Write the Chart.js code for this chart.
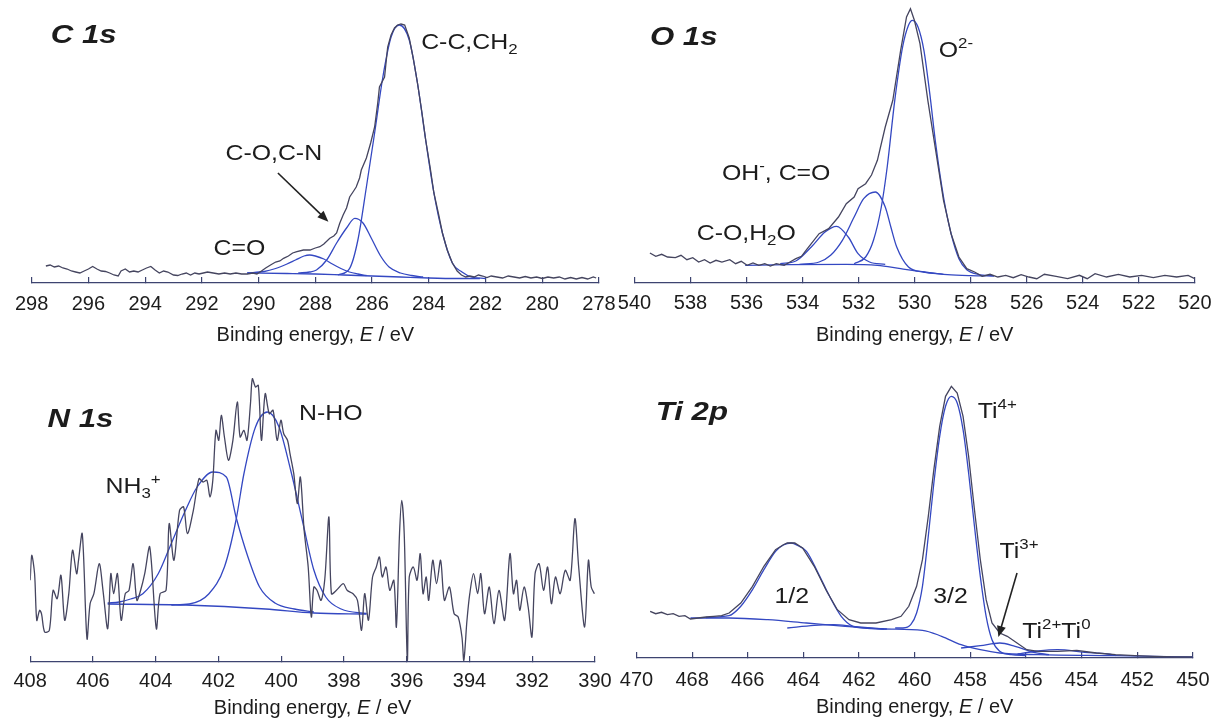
<!DOCTYPE html>
<html><head><meta charset="utf-8">
<script src="https://cdn.jsdelivr.net/npm/chart.js@4.4.1/dist/chart.umd.min.js"></script>
<style>
html,body{margin:0;padding:0;background:#fff;}
#wrap{position:relative;width:1226px;height:726px;overflow:hidden;background:#fff;}
canvas{position:absolute;}
</style></head><body><div id="wrap">
<canvas id="c1s" width="640" height="350" style="left:0px;top:0px"></canvas>
<canvas id="o1s" width="626" height="350" style="left:600px;top:0px"></canvas>
<canvas id="n1s" width="640" height="366" style="left:0px;top:360px"></canvas>
<canvas id="ti2p" width="626" height="366" style="left:600px;top:360px"></canvas>
</div>
<script>
// ---------- DATA: [binding energy (eV), intensity above axis (a.u.)] ----------
const AXIS_TITLE_PARTS = [['Binding energy, ', ''], ['E', 'i'], [' / eV', '']];
const C1S_RANGE = [278, 298];
const O1S_RANGE = [520, 540];
const N1S_RANGE = [390, 408];
const TI_RANGE = [450, 470];
const TICK_STEP = 2;

const C1S_RAW = [[297.5,17],[297.35,18],[297.2,16],[297.05,17],[296.9,15],[296.75,14],[296.6,12],[296.45,11],[296.3,10],[296.15,12],[296.0,14],[295.85,16.5],[295.7,14],[295.55,12],[295.4,11.5],[295.25,10],[295.1,8],[294.95,7],[294.85,12],[294.7,14],[294.55,11],[294.4,12],[294.25,11],[294.1,13],[293.95,15],[293.8,16.5],[293.65,13],[293.5,10],[293.35,12],[293.2,11],[293.0,8],[292.85,7.5],[292.7,9],[292.55,10],[292.4,8],[292.25,10],[292.1,9],[291.95,10],[291.8,11],[291.6,10],[291.4,9],[291.2,10],[291.0,9],[290.8,10],[290.6,9],[290.4,9],[290.2,10],[290.06,9],[289.9,12],[289.75,15],[289.58,18],[289.4,21],[289.25,22],[289.12,24.7],[288.95,27],[288.8,30],[288.65,31.3],[288.42,33],[288.19,33],[288.0,35],[287.84,36.3],[287.7,39],[287.49,44.7],[287.35,47],[287.25,50],[287.14,59.7],[287.02,68],[286.9,75],[286.79,86],[286.65,92],[286.56,96],[286.44,105],[286.38,113],[286.2,125],[286.05,140],[285.91,156],[285.8,180],[285.74,196],[285.56,206],[285.45,236],[285.33,248],[285.21,255],[285.1,258],[284.98,259],[284.85,258],[284.69,245],[284.55,225],[284.4,200],[284.25,172],[284.11,143],[283.95,115],[283.82,90],[283.65,68],[283.52,50],[283.35,33],[283.17,20],[283.0,12],[282.85,8],[282.7,6],[282.55,7],[282.4,6],[282.25,8],[282.1,7],[281.95,5.5],[281.8,7],[281.6,6],[281.4,5],[281.2,7],[281.0,6],[280.8,5],[280.6,6.5],[280.4,5],[280.2,6],[280.0,4.5],[279.8,6],[279.6,5],[279.4,6],[279.2,4],[279.0,5.5],[278.8,4],[278.6,5.5],[278.4,4],[278.2,6],[278.1,5]];
const C1S_BG = [[290.4,10],[289,9.5],[288,9],[287,8],[286,7],[285,6],[284,5],[283,4.5],[282.2,4.5]];
const C1S_CO_DOUBLE = [[290.4,10],[289.8,11.5],[289.4,14.5],[289.0,19],[288.7,23],[288.4,27],[288.2,28],[288.0,27],[287.7,24],[287.4,19],[287.1,14.5],[286.8,11],[286.5,9],[286.2,7.5]];
const C1S_CO_CN = [[288.6,10],[288.2,11],[287.96,13],[287.6,23],[287.25,40],[286.9,55],[286.61,64.7],[286.32,60],[286.03,45],[285.7,27],[285.4,16],[285.0,10],[284.6,7.5],[284.2,6]];
const C1S_CC = [[287.2,8],[286.79,14.7],[286.5,43],[286.2,96],[285.91,150],[285.62,206],[285.33,246],[285.04,258],[284.69,243],[284.4,200],[284.11,143],[283.82,90],[283.52,50],[283.17,20],[282.83,11],[282.5,6],[282.0,4.5]];

const O1S_RAW = [[539.45,30],[539.24,26.7],[539.03,28.7],[538.82,26],[538.54,25.3],[538.34,27.7],[538.13,23.3],[537.92,25.3],[537.71,21],[537.5,23.3],[537.3,20],[537.09,22.7],[536.88,21],[536.6,23.3],[536.39,19.3],[536.19,21.7],[535.98,17.7],[535.77,20],[535.56,17.7],[535.35,19.3],[535.15,17],[534.94,19.3],[534.66,17.7],[534.45,21],[534.24,24.3],[534.04,26.7],[533.83,34.3],[533.41,49.3],[533.07,54.3],[532.72,66],[532.44,79.3],[532.16,86],[532.02,94.3],[531.75,99.3],[531.54,108],[531.33,122.7],[531.05,156],[530.78,182.7],[530.5,232.7],[530.29,266],[530.15,274.3],[530.01,262.7],[529.81,239.3],[529.53,182.7],[529.25,132.7],[528.97,82.7],[528.7,49.3],[528.42,26],[528.14,14.3],[527.86,11],[527.59,6.7],[527.31,8.7],[527.03,6],[526.75,7.7],[526.48,5.3],[526.2,8.3],[525.92,6],[525.64,4.3],[525.37,8.7],[524.95,6.7],[524.54,4.3],[524.12,7.7],[523.84,4.3],[523.56,9.3],[523.15,6],[522.73,8.7],[522.32,6],[521.9,7.7],[521.48,5.3],[521.07,7.7],[520.65,6],[520.24,7.7],[520.0,4.3]];
const O1S_BG = [[536.05,17.7],[534.52,18.3],[532.44,18.7],[531.33,17.7],[530.5,14.3],[529.67,11],[528.83,8.3],[528.0,7.3],[527.17,7]];
const O1S_O2 = [[532.16,19.3],[531.75,26],[531.47,42.7],[531.19,76],[530.98,116],[530.71,182.7],[530.43,236],[530.22,257.7],[530.08,262.7],[529.88,256],[529.67,232.7],[529.46,189.3],[529.25,139.3],[528.97,86],[528.7,49.3],[528.42,24.3],[528.14,13.3],[527.73,8.7],[527.17,7.3]];
const O1S_OH = [[534.11,18.7],[533.41,21],[533.0,27.7],[532.58,42.7],[532.16,66],[531.82,84.3],[531.4,91],[531.05,76],[530.85,56],[530.64,36],[530.22,16],[529.67,11],[528.97,8.7]];
const O1S_CO_H2O = [[534.8,19.3],[534.24,22],[533.69,36],[533.2,51],[532.79,56.7],[532.37,46],[532.02,29.3],[531.61,21],[531.05,18.7]];

const N1S_RAW = [[408.0,81.7],[407.95,106.7],[407.86,88.3],[407.79,41.7],[407.7,51.7],[407.64,48.3],[407.54,30],[407.39,31.7],[407.27,71.7],[407.14,63.3],[407.02,86.7],[406.9,41.7],[406.77,68.3],[406.65,111.7],[406.52,88.3],[406.46,101.7],[406.34,128.3],[406.19,23.3],[406.09,58.3],[405.97,68.3],[405.8,98.3],[405.68,71.7],[405.53,33.3],[405.43,88.3],[405.34,68.3],[405.22,88.3],[405.1,41.7],[404.97,68.3],[404.85,71.7],[404.72,98.3],[404.6,61.7],[404.48,71.7],[404.35,88.3],[404.19,115],[403.98,33.3],[403.86,68.3],[403.67,71.7],[403.57,138.3],[403.42,101.7],[403.24,151.7],[403.11,155],[402.99,128.3],[402.8,151.7],[402.62,183.3],[402.49,180],[402.37,181.7],[402.27,165],[402.18,181.7],[402.08,231.7],[401.99,221.7],[401.91,246.7],[401.81,225],[401.68,201.7],[401.54,221.7],[401.4,260],[401.31,225],[401.19,231.7],[401.09,221.7],[400.98,258.3],[400.92,283.3],[400.82,275],[400.73,276.7],[400.63,221.7],[400.51,268.3],[400.38,248.3],[400.26,251.7],[400.13,221.7],[400.01,241.7],[399.92,228.3],[399.8,221.7],[399.72,208.3],[399.6,188.3],[399.49,158.3],[399.39,185],[399.27,131.7],[399.14,95],[399.04,45],[398.96,75],[398.86,71.7],[398.73,61.7],[398.61,83.3],[398.48,145],[398.4,68.3],[398.24,71.7],[398.02,78.3],[397.9,71.7],[397.71,68.3],[397.57,61.7],[397.44,31.7],[397.34,68.3],[397.22,41.7],[397.09,85],[396.97,95],[396.87,105],[396.78,85],[396.66,95],[396.54,71.7],[396.41,81.7],[396.33,35],[396.23,128.3],[396.16,161.7],[396.08,128.3],[395.98,1.7],[395.92,85],[395.79,95],[395.67,81.7],[395.57,108.3],[395.48,68.3],[395.38,85],[395.3,61.7],[395.17,101.7],[395.05,78.3],[394.92,101.7],[394.8,61.7],[394.64,75],[394.49,48.3],[394.36,45],[394.24,25],[394.18,1.7],[394.08,41.7],[393.99,68.3],[393.87,88.3],[393.74,68.3],[393.64,88.3],[393.52,48.3],[393.37,75],[393.22,38.3],[393.06,71.7],[392.88,41.7],[392.71,108.3],[392.6,68.3],[392.5,81.7],[392.4,51.7],[392.26,75],[392.13,55],[392.01,25],[391.91,88.3],[391.78,98.3],[391.64,71.7],[391.51,95],[391.39,58.3],[391.26,85],[391.11,68.3],[390.95,91.7],[390.79,81.7],[390.64,143.3],[390.52,95],[390.33,35],[390.21,101.7],[390.12,75],[390.02,68.3]];
const N1S_BG = [[405.53,58],[403.05,57],[400.5,53],[398.96,49],[397.28,48]];
const N1S_NH3 = [[405.53,59],[405.16,60],[404.8,63],[404.41,68.3],[403.92,88.3],[403.55,115],[403.05,151.7],[402.68,175],[402.18,190],[401.75,185],[401.44,145],[401.06,105],[400.69,75],[400.2,59],[399.58,53],[398.96,50]];
const N1S_NHO = [[403.5,57],[402.93,58],[402.31,68],[401.81,95],[401.44,142],[401.19,188],[400.82,235],[400.44,250],[400.07,235],[399.7,192],[399.33,142],[398.96,92],[398.58,65],[398.09,53],[397.28,48.5]];

const TI_RAW = [[469.51,46.7],[469.31,44.3],[469.1,45.7],[468.89,43.3],[468.68,44.3],[468.47,41.7],[468.26,42.3],[468.06,39],[467.78,40],[467.5,41],[467.22,41.7],[466.94,42.3],[466.67,45],[466.25,55],[465.83,71.7],[465.42,91.7],[465.0,108.3],[464.72,113.3],[464.58,115],[464.31,115],[464.03,110],[463.61,91.7],[463.19,68.3],[462.78,48.3],[462.36,38.3],[461.94,35],[461.39,35],[460.83,38.3],[460.49,41.7],[460.21,51.7],[459.93,71.7],[459.72,98.3],[459.51,141.7],[459.31,188.3],[459.1,231.7],[458.89,261.7],[458.68,271.7],[458.47,265],[458.26,241.7],[458.06,201.7],[457.85,148.3],[457.64,98.3],[457.43,58.3],[457.22,35],[456.94,25],[456.67,21.7],[456.32,15],[455.97,8.3],[455.56,6.7],[454.86,6.7],[454.17,7.7],[453.47,5],[452.78,3.3],[452.08,2.3],[451.39,1.7],[450.69,1],[450.0,1]];
const TI_BG = [[468.06,40],[466.67,40],[465.28,38.3],[463.89,35],[462.5,31.7],[461.11,29],[459.72,27.7],[459.03,21.7],[458.33,13.3],[457.64,8.3],[456.94,5],[455.56,3.3],[452.78,2.3],[450.0,1]];
const TI4_2P12 = [[467.5,40.5],[466.67,42.3],[466.25,51.7],[465.83,68.3],[465.42,88.3],[465.0,106.7],[464.72,113],[464.44,115],[464.17,112],[463.89,106.7],[463.47,85],[463.06,61.7],[462.64,41.7],[462.22,31.7],[461.81,30],[461.0,29]];
const TI4_2P32 = [[460.7,30],[460.42,30],[460.14,33.3],[459.93,45],[459.72,71.7],[459.51,121.7],[459.31,175],[459.1,221.7],[458.89,251.7],[458.68,261.7],[458.47,255],[458.26,228.3],[458.06,185],[457.85,131.7],[457.64,81.7],[457.43,41.7],[457.22,18.3],[456.94,6.7],[456.53,3.3],[456.0,2.5]];
const TI3_2P12 = [[464.58,30],[463.61,32.7],[462.92,33.3],[462.22,31.7],[461.11,29]];
const TI3_2P32 = [[458.33,10],[457.64,12.3],[456.94,15],[456.39,11.7],[455.72,5.7],[455.17,3.3]];
const TI20_2P32 = [[456.3,4],[455.56,7],[454.86,8.3],[453.89,5.7],[453.06,4],[452.78,2.5]];

// ---------- STYLE ----------
const FONT = '"Liberation Sans", Arial, Helvetica, sans-serif';
const RAW_COLOR = '#45455f';
const FIT_COLOR = '#3448c2';
const AXIS_COLOR = '#3d4470';
const TEXT_COLOR = '#1c1c1c';

// annotations: anchor (energy, intensity) at left baseline; parts: [text, kind]
const HEAD = {size: 26, weight: 'bold', italic: true, stretch: 1.2};
const NOTE = {size: 22, weight: 'normal', italic: false, stretch: 1.13};
const AXT = {size: 20, weight: 'normal', italic: false, stretch: 1};
const ANNOT = {
  c1s: {
    titleDrop: 58,
    texts: [
      {e: 297.33, h: 240, st: HEAD, parts: [['C 1s', '']]},
      {e: 284.27, h: 234, st: NOTE, parts: [['C-C,CH', ''], ['2', 'sub']]},
      {e: 291.17, h: 123, st: NOTE, parts: [['C-O,C-N', '']]},
      {e: 291.59, h: 28, st: NOTE, parts: [['C=O', '']]}
    ],
    arrows: [[[289.32, 110], [287.54, 61.3]]]
  },
  o1s: {
    titleDrop: 58,
    texts: [
      {e: 539.45, h: 238, st: HEAD, parts: [['O 1s', '']]},
      {e: 529.14, h: 226, st: NOTE, parts: [['O', ''], ['2-', 'sup']]},
      {e: 536.88, h: 103, st: NOTE, parts: [['OH', ''], ['-', 'sup'], [', C=O', '']]},
      {e: 537.78, h: 43, st: NOTE, parts: [['C-O,H', ''], ['2', 'sub'], ['O', '']]}
    ],
    arrows: []
  },
  n1s: {
    titleDrop: 52,
    texts: [
      {e: 407.45, h: 235, st: HEAD, parts: [['N 1s', '']]},
      {e: 399.43, h: 242, st: NOTE, parts: [['N-HO', '']]},
      {e: 405.6, h: 169, st: NOTE, parts: [['NH', ''], ['3', 'sub'], ['+', 'sup']]}
    ],
    arrows: []
  },
  ti2p: {
    titleDrop: 55,
    texts: [
      {e: 469.31, h: 238, st: HEAD, parts: [['Ti 2p', '']]},
      {e: 457.73, h: 240, st: NOTE, parts: [['Ti', ''], ['4+', 'sup']]},
      {e: 465.04, h: 55, st: NOTE, parts: [['1/2', '']]},
      {e: 459.33, h: 55, st: NOTE, parts: [['3/2', '']]},
      {e: 456.95, h: 100, st: NOTE, parts: [['Ti', ''], ['3+', 'sup']]},
      {e: 456.13, h: 20, st: NOTE, parts: [['Ti', ''], ['2+', 'sup'], ['Ti', ''], ['0', 'sup']]}
    ],
    arrows: [[[456.32, 85], [456.99, 21]]]
  }
};

function fontFor(st, k) {
  const small = (k === 'sub' || k === 'sup');
  const size = small ? st.size * 0.68 : st.size;
  const ital = st.italic || k === 'i';
  return (ital ? 'italic ' : '') + st.weight + ' ' + size + 'px ' + FONT;
}
function richWidth(ctx, parts, st) {
  let w = 0;
  parts.forEach(([s, k]) => { ctx.font = fontFor(st, k); w += ctx.measureText(s).width; });
  return w * st.stretch;
}
function drawRich(ctx, x, y, parts, st) {
  ctx.save();
  ctx.translate(x, y);
  ctx.scale(st.stretch, 1);
  ctx.fillStyle = TEXT_COLOR;
  ctx.textBaseline = 'alphabetic';
  ctx.textAlign = 'left';
  let cx = 0;
  parts.forEach(([s, k]) => {
    ctx.font = fontFor(st, k);
    const dy = k === 'sub' ? st.size * 0.24 : (k === 'sup' ? -st.size * 0.42 : 0);
    ctx.fillText(s, cx, dy);
    cx += ctx.measureText(s).width;
  });
  ctx.restore();
}

const annotPlugin = {
  id: 'xpsAnnot',
  afterDraw(chart) {
    const a = ANNOT[chart.canvas.id];
    if (!a) return;
    const ctx = chart.ctx, xs = chart.scales.x, ys = chart.scales.y;
    ctx.save();
    a.arrows.forEach(([p, q]) => {
      const x1 = xs.getPixelForValue(p[0]), y1 = ys.getPixelForValue(p[1]);
      const x2 = xs.getPixelForValue(q[0]), y2 = ys.getPixelForValue(q[1]);
      const ang = Math.atan2(y2 - y1, x2 - x1);
      ctx.strokeStyle = '#222';
      ctx.fillStyle = '#222';
      ctx.lineWidth = 1.6;
      ctx.beginPath();
      ctx.moveTo(x1, y1);
      ctx.lineTo(x2 - 8 * Math.cos(ang), y2 - 8 * Math.sin(ang));
      ctx.stroke();
      ctx.beginPath();
      ctx.moveTo(x2, y2);
      ctx.lineTo(x2 - 11 * Math.cos(ang) + 4.5 * Math.sin(ang), y2 - 11 * Math.sin(ang) - 4.5 * Math.cos(ang));
      ctx.lineTo(x2 - 11 * Math.cos(ang) - 4.5 * Math.sin(ang), y2 - 11 * Math.sin(ang) + 4.5 * Math.cos(ang));
      ctx.closePath();
      ctx.fill();
    });
    a.texts.forEach(t => drawRich(ctx, xs.getPixelForValue(t.e), ys.getPixelForValue(t.h), t.parts, t.st));
    // axis title with italic E, centred under the x axis
    const w = richWidth(ctx, AXIS_TITLE_PARTS, AXT);
    drawRich(ctx, (xs.left + xs.right) / 2 - w / 2, xs.top + a.titleDrop, AXIS_TITLE_PARTS, AXT);
    ctx.restore();
  }
};

const xy = arr => arr.map(([x, y]) => ({x, y}));

function makePanel(id, range, raw, fits, lay) {
  const datasets = [
    {data: xy(raw), borderColor: RAW_COLOR, borderWidth: 1.3, tension: lay.rawTension || 0, showLine: true, pointRadius: 0, pointHitRadius: 0}
  ].concat(fits.map(f => ({
    data: xy(f), borderColor: FIT_COLOR, borderWidth: 1.3, showLine: true, pointRadius: 0, pointHitRadius: 0,
    cubicInterpolationMode: 'monotone'
  })));
  return new Chart(document.getElementById(id), {
    type: 'scatter',
    data: {datasets},
    options: {
      responsive: false, animation: false, devicePixelRatio: 1,
      layout: {padding: {left: lay.padL, right: lay.padR, top: 0, bottom: 0}},
      plugins: {legend: {display: false}, tooltip: {enabled: false}},
      scales: {
        x: {
          type: 'linear', reverse: true, min: range[0], max: range[1],
          afterFit: s => { s.height = lay.axisH; },
          ticks: {stepSize: TICK_STEP, padding: lay.tickPad, color: TEXT_COLOR, autoSkip: false, maxRotation: 0,
                  font: {family: FONT, size: 20}, callback: v => String(v)},
          grid: {display: true, drawOnChartArea: false, drawTicks: true, tickLength: -6, color: AXIS_COLOR, lineWidth: 1.2},
          border: {display: true, color: AXIS_COLOR, width: 1.3},
          title: {display: false}
        },
        y: {display: false, min: 0, max: lay.yMax}
      }
    },
    plugins: [annotPlugin]
  });
}

makePanel('c1s', C1S_RANGE, C1S_RAW, [C1S_BG, C1S_CO_DOUBLE, C1S_CO_CN, C1S_CC],
  {padL: 26, padR: 41, axisH: 67, yMax: 283, tickPad: 15, rawTension: 0});
makePanel('o1s', O1S_RANGE, O1S_RAW, [O1S_BG, O1S_CO_H2O, O1S_OH, O1S_O2],
  {padL: 34.5, padR: 28, axisH: 67, yMax: 283, tickPad: 14.5, rawTension: 0});
makePanel('n1s', N1S_RANGE, N1S_RAW, [N1S_BG, N1S_NH3, N1S_NHO],
  {padL: 28, padR: 45, axisH: 64, yMax: 302, tickPad: 13.5, rawTension: 0.3});
makePanel('ti2p', TI_RANGE, TI_RAW, [TI_BG, TI3_2P12, TI4_2P12, TI4_2P32, TI3_2P32, TI20_2P32],
  {padL: 36.5, padR: 26.6, axisH: 68, yMax: 298, tickPad: 16.5, rawTension: 0});
</script>
</body></html>
